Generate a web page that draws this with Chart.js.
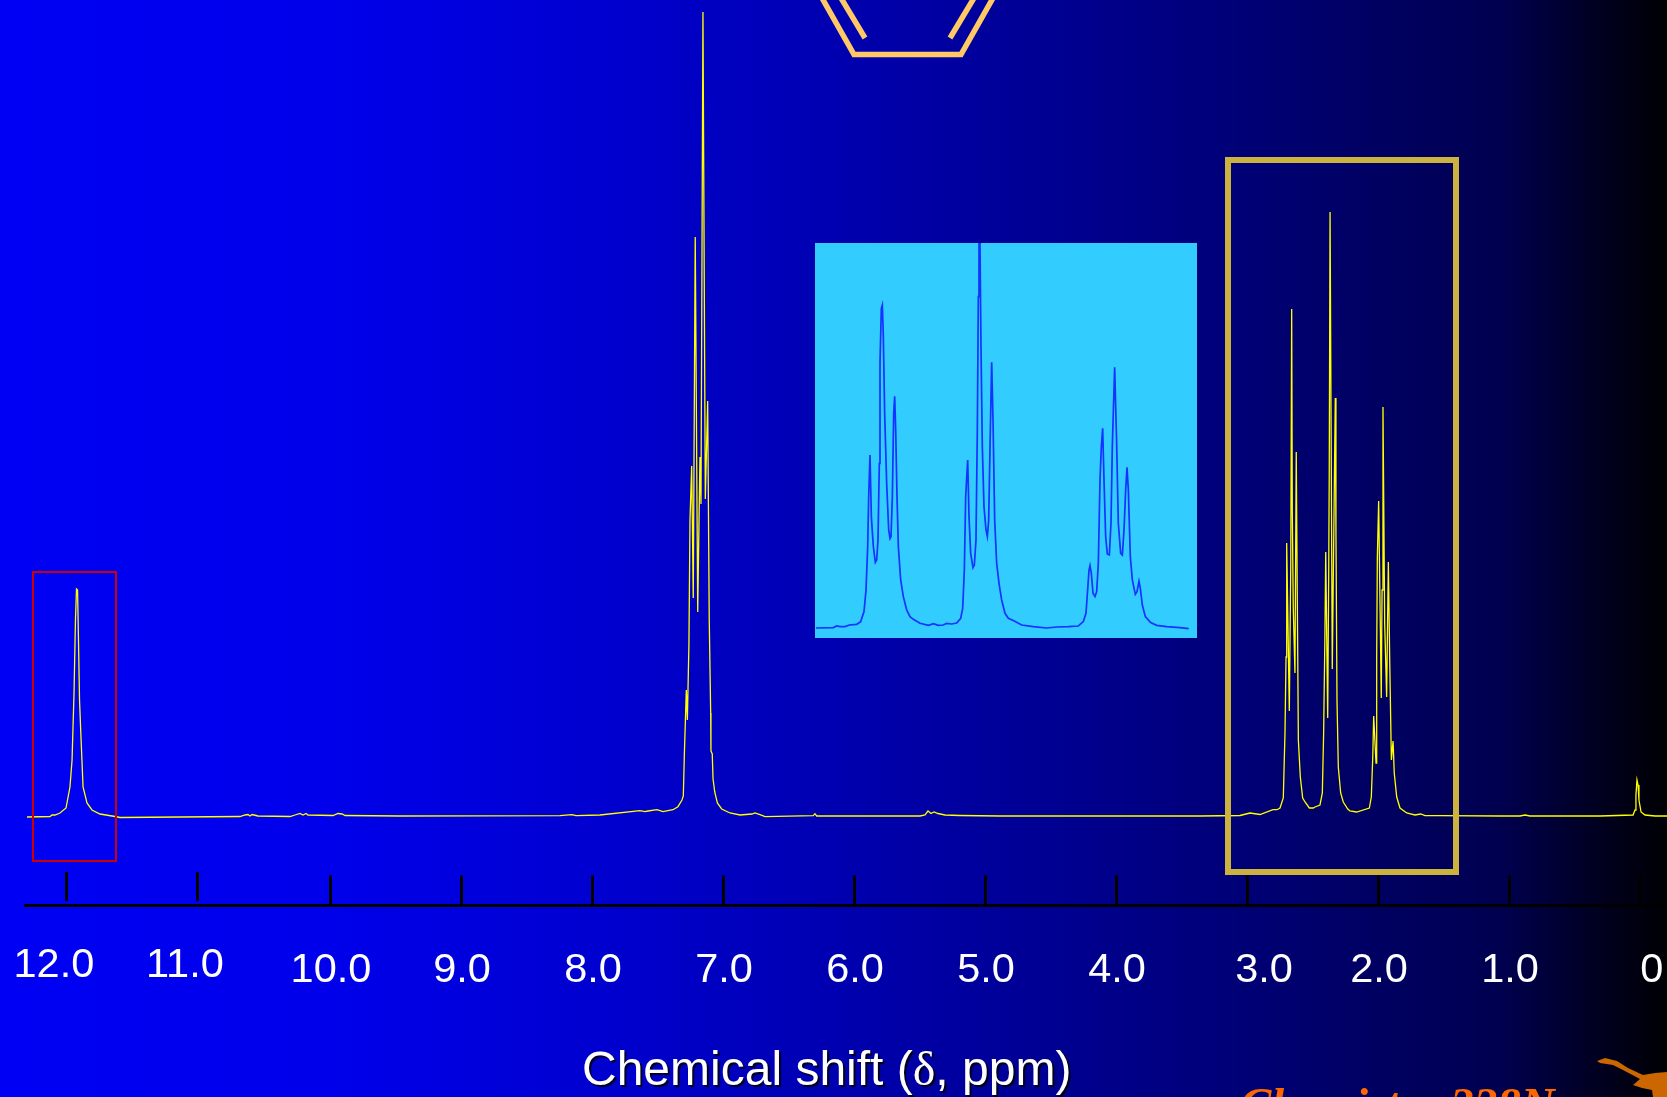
<!DOCTYPE html>
<html>
<head>
<meta charset="utf-8">
<title>1H NMR spectrum</title>
<script src="https://cdn.jsdelivr.net/npm/chart.js@4"></script>
<style>
    html, body { margin: 0; padding: 0; background: #000; overflow: hidden; }
    #wrap { position: relative; width: 1667px; height: 1097px; }
    #main { position: absolute; left: 0; top: 0; }
    #inset { position: absolute; left: 815px; top: 243px; background: #33ccff; }
</style>
</head>
<body>
<div id="wrap">
    <canvas id="main" width="1667" height="1097"></canvas>
    <canvas id="inset" width="382" height="395"></canvas>
</div>
<script>
// spectrum: chemical shift (ppm) and peak height (a.u.)
const spectrumPpm = [
    12.313, 12.137, 12.122, 12.099, 12.061, 12.015, 11.985, 11.969, 11.954, 11.943, 11.935, 11.927, 11.920, 11.912,
    11.901, 11.885, 11.855, 11.817, 11.756, 11.641, 11.603, 10.687, 10.649, 10.626, 10.611, 10.595, 10.580, 10.550,
    10.305, 10.267, 10.229, 10.206, 10.183, 10.168, 9.977, 9.939, 9.908, 9.885, 9.466, 8.244, 8.153, 8.122, 7.939,
    7.634, 7.595, 7.573, 7.504, 7.458, 7.382, 7.344, 7.313, 7.303, 7.295, 7.280, 7.272, 7.260, 7.252, 7.239, 7.227,
    7.212, 7.193, 7.176, 7.168, 7.153, 7.135, 7.117, 7.109, 7.105, 7.094, 7.092, 7.082, 7.076, 7.063, 7.043, 7.010,
    6.947, 6.870, 6.779, 6.756, 6.718, 6.679, 6.311, 6.298, 6.285, 5.649, 5.496, 5.458, 5.435, 5.412, 5.389, 5.359,
    5.305, 5.191, 4.885, 4.122, 3.359, 3.053, 2.977, 2.901, 2.802, 2.771, 2.748, 2.723, 2.710, 2.702, 2.697, 2.677,
    2.666, 2.659, 2.654, 2.647, 2.634, 2.624, 2.616, 2.608, 2.593, 2.575, 2.557, 2.524, 2.494, 2.481, 2.443, 2.425,
    2.415, 2.405, 2.399, 2.384, 2.376, 2.372, 2.366, 2.349, 2.326, 2.321, 2.313, 2.303, 2.285, 2.265, 2.231, 2.214,
    2.163, 2.066, 2.051, 2.040, 2.033, 2.015, 2.010, 2.005, 1.995, 1.975, 1.969, 1.962, 1.949, 1.934, 1.927, 1.921,
    1.911, 1.898, 1.885, 1.876, 1.857, 1.832, 1.781, 1.718, 1.674, 1.641, 1.527, 1.069, 0.916, 0.878, 0.840, 0.305,
    0.053, 0.038, 0.031, 0.023, 0.015, 0.008, -0.008, -0.038, -0.115, -0.206
];
const spectrumHeight = [
    0, 0.5, 2, 2, 4, 9, 30, 57, 124, 197, 228, 227, 177, 117,
    80, 30, 14, 7, 3, 0.5, -0.5, 0.5, 2, 2.5, 1, 2.5, 2, 1,
    0.5, 2, 3.5, 2, 3.5, 2, 1.5, 3.5, 3, 1.5, 1, 1.3, 2.3, 1.3, 2,
    6.3, 5.3, 6, 7.3, 5.3, 7.3, 10.3, 17, 21, 62.5, 127, 97, 173, 297, 351, 219,
    580, 205, 360, 313, 805, 318, 416, 269, 197, 104, 66, 63, 38, 25, 14, 8,
    4, 2, 3, 4, 2.3, 0.3, 1.3, 3.3, 1, 1, 1, 2, 6, 3.5, 5, 3.5,
    2, 1.5, 1, 1, 1, 1.5, 4, 2.5, 7.3, 7.3, 9, 19, 84, 160, 274, 106,
    251, 508, 304, 210, 144, 365, 217, 77, 40, 19, 15, 9, 9, 10, 12, 24,
    84, 184, 265, 99, 250, 350, 605, 148, 419, 284, 117, 50, 24, 15, 8, 6,
    5, 9, 20, 60, 101, 54, 160, 260, 316, 119, 227, 410, 194, 120, 194, 255,
    160, 57, 76, 44, 20, 9, 4, 2, 3, 1.3, 1.3, 1, 1, 2, 1, 1,
    2, 7, 22, 37, 32, 17, 5, 2, 1, 1
];

// blown up part of the same spectrum shown in the light blue box
const insetPpm = [
    2.8584, 2.8064, 2.7964, 2.7864, 2.7714, 2.7583, 2.7363, 2.7243, 2.7143, 2.7083, 2.7033, 2.7003, 2.6963, 2.6923,
    2.6863, 2.6803, 2.6763, 2.6723, 2.6683, 2.6663, 2.6623, 2.6593, 2.6563, 2.6523, 2.6463, 2.6402, 2.6362, 2.6332,
    2.6292, 2.6252, 2.6222, 2.6192, 2.6152, 2.6112, 2.6042, 2.5962, 2.5862, 2.5762, 2.5662, 2.5461, 2.5211, 2.5061,
    2.4911, 2.4761, 2.4661, 2.4510, 2.4360, 2.4240, 2.4180, 2.4130, 2.4090, 2.4030, 2.3990, 2.3940, 2.3870, 2.3830,
    2.3780, 2.3740, 2.3710, 2.3690, 2.3660, 2.3630, 2.3590, 2.3540, 2.3480, 2.3439, 2.3399, 2.3349, 2.3309, 2.3269,
    2.3219, 2.3159, 2.3089, 2.3009, 2.2909, 2.2809, 2.2659, 2.2408, 2.2058, 2.1658, 2.1357, 2.1007, 2.0707, 2.0557,
    2.0477, 2.0427, 2.0386, 2.0356, 2.0316, 2.0266, 2.0206, 2.0156, 2.0106, 2.0056, 2.0016, 1.9976, 1.9936, 1.9886,
    1.9836, 1.9776, 1.9726, 1.9686, 1.9616, 1.9556, 1.9506, 1.9435, 1.9385, 1.9335, 1.9285, 1.9245, 1.9205, 1.9145,
    1.9085, 1.8995, 1.8945, 1.8885, 1.8845, 1.8785, 1.8695, 1.8535, 1.8354, 1.8054, 1.7654, 1.7393
];
const insetHeight = [
    0.3, 0.7, 2.3, 1.7, 1.7, 3.3, 4, 6.7, 16.7, 38.3, 81.7, 131.7, 173.3, 111.7,
    81.7, 66, 68.3, 88.3, 165, 265, 320, 323.3, 291.7, 215, 145, 98.3, 89.7, 91.7,
    131.7, 215, 232, 198.3, 131.7, 81.7, 48.3, 31.7, 18.3, 11.7, 9, 5, 3, 4.7,
    3, 3.3, 5, 4.3, 5.3, 10, 20, 58.3, 131.7, 168.3, 111.7, 75, 60.7, 63.3,
    88.3, 198.3, 331.7, 385.3, 385.3, 281.7, 181.7, 121.7, 98.3, 91.7, 108.3, 198.3, 266, 208.3,
    108.3, 65, 45, 28.3, 15, 10, 7.7, 3.3, 1.7, 0.3, 1.3, 1.7, 2.3, 6.7,
    15, 38.3, 58.3, 62.7, 55, 35, 31.7, 36.7, 65, 148.3, 181.7, 200, 148.3, 91.7,
    74.3, 73.3, 105, 181.7, 261, 185, 105, 75, 73.3, 98.3, 138.3, 161, 138.3, 71.7,
    48.3, 34, 36.7, 47, 40, 23.3, 11.7, 5.7, 3, 1.7, 0.7, -0.3
];

// ascending ppm, the axis is reversed so these run right to left
const tickValues = [0, 1, 2, 3, 4, 5, 6, 7, 8, 9, 10];
const tickLabels = ['0.0', '1.0', '2.0', '3.0', '4.0', '5.0', '6.0', '7.0', '8.0', '9.0', '10.0'];
const earlyTickValues = [11, 12];
const earlyTickLabels = ['11.0', '12.0'];
const axisTitle = ['Chemical shift (', 'δ', ', ppm)'];
const courseLabel = 'Chemistry 328N';

function toPoints(xs, ys) {
    return xs.map((x, i) => ({ x: x, y: ys[i] }));
}

// the labels on the slide sit a bit off their ticks, so they get their own axis.
// 0.0 has to stay inside the scale range or chart.js pads the scale to nothing
const labelShift = { 3: -0.122, 0: -0.2138 };

function polyline(ctx, pts) {
    ctx.beginPath();
    pts.forEach((p, i) => i ? ctx.lineTo(p[0], p[1]) : ctx.moveTo(p[0], p[1]));
}

const slideBackground = {
    id: 'slideBackground',
    beforeDraw(chart) {
        const ctx = chart.ctx;
        const g = ctx.createLinearGradient(0, 0, chart.width, 0);
        g.addColorStop(0, '#0000f4');
        g.addColorStop(0.2, '#0000ea');
        g.addColorStop(0.38, '#0000cc');
        g.addColorStop(0.64, '#000090');
        g.addColorStop(0.72, '#00007c');
        g.addColorStop(0.9, '#000050');
        g.addColorStop(0.96, '#000020');
        g.addColorStop(1, '#000004');
        ctx.fillStyle = g;
        ctx.fillRect(0, 0, chart.width, chart.height);
    }
};

const slideDecor = {
    id: 'slideDecor',
    afterDraw(chart) {
        const ctx = chart.ctx;
        ctx.save();

        // bottom of the benzene ring coming in from the top of the slide
        ctx.strokeStyle = '#ffc966';
        ctx.lineWidth = 5.5;
        polyline(ctx, [[822, -2], [854, 54.5], [961, 54.5], [993, -2]]);
        ctx.stroke();
        polyline(ctx, [[841, -2], [865, 38]]);
        ctx.stroke();
        polyline(ctx, [[974, -2], [950, 38]]);
        ctx.stroke();

        // highlight boxes
        ctx.strokeStyle = '#cc0000';
        ctx.lineWidth = 2;
        ctx.strokeRect(33, 572, 83, 289);
        ctx.strokeStyle = '#ccb340';
        ctx.lineWidth = 6;
        ctx.strokeRect(1228, 160, 228, 712);

        // axis title, the delta is set in a serif face
        ctx.fillStyle = '#ffffff';
        ctx.textBaseline = 'alphabetic';
        ctx.textAlign = 'left';
        ctx.shadowColor = 'rgba(0,0,0,0.85)';
        ctx.shadowOffsetX = 2;
        ctx.shadowOffsetY = 2;
        ctx.shadowBlur = 1;
        let x = 582;
        axisTitle.forEach((part, i) => {
            ctx.font = (i === 1 ? '48px "Liberation Serif"' : '48px "Liberation Sans"');
            ctx.fillText(part, x, 1085);
            x += ctx.measureText(part).width;
        });
        ctx.shadowColor = 'transparent';
        ctx.shadowOffsetX = 0;
        ctx.shadowOffsetY = 0;
        ctx.shadowBlur = 0;

        // footer, cut by the slide edge
        ctx.fillStyle = '#ff6600';
        ctx.font = 'italic bold 47px "Liberation Serif"';
        ctx.fillText(courseLabel, 1240, 1120);

        // longhorn logo
        ctx.fillStyle = '#cc6600';
        polyline(ctx, [[1597, 1061], [1605, 1058], [1617, 1061], [1628, 1068], [1643, 1075], [1655, 1073], [1667, 1072],
            [1667, 1097], [1653, 1097], [1652, 1090], [1642, 1088], [1633, 1085], [1640, 1079], [1623, 1070],
            [1613, 1065], [1600, 1063]]);
        ctx.closePath();
        ctx.fill();

        ctx.restore();
    }
};

// 1 height unit is one pixel, 131 px per ppm
const xMin = -0.2061;
const xMax = 12.3282;
const axisY = -88;
const labelFont = { family: '"Liberation Sans"', size: 41.5 };

new Chart(document.getElementById('main'), {
    type: 'line',
    data: {
        datasets: [{
            data: toPoints(spectrumPpm, spectrumHeight),
            borderColor: '#ffff00',
            borderWidth: 1.3,
            pointRadius: 0,
            tension: 0,
            fill: false
        }]
    },
    options: {
        responsive: false,
        animation: false,
        layout: { padding: { left: 25, right: 0, top: 0, bottom: 0 }, autoPadding: false },
        plugins: { legend: { display: false }, tooltip: { enabled: false } },
        scales: {
            y: { display: false, min: -280, max: 817 },
            // ticks 10 to 0 and the axis line
            x: {
                type: 'linear', reverse: true, min: xMin, max: xMax,
                position: { y: axisY },
                border: { display: true, color: '#000000', width: 3 },
                grid: { drawOnChartArea: false, tickLength: -31.5, tickColor: '#000000', tickWidth: 3 },
                ticks: { display: false },
                afterBuildTicks: s => { s.ticks = tickValues.map(v => ({ value: v - 0.007 })); }
            },
            // 12 and 11 stand a little higher and further left on the slide
            xEarly: {
                axis: 'x', type: 'linear', reverse: true, min: xMin - 0.012, max: xMax - 0.012,
                position: { y: -84 },
                border: { display: false },
                grid: { drawOnChartArea: false, tickLength: -29, tickColor: '#000000', tickWidth: 3 },
                ticks: {
                    color: '#ffffff', font: labelFont, padding: 68.7,
                    labelOffset: -12.5, maxRotation: 0, autoSkip: false,
                    callback: (v) => earlyTickLabels[earlyTickValues.indexOf(v)]
                },
                afterBuildTicks: s => { s.ticks = earlyTickValues.map(v => ({ value: v })); }
            },
            // shifted 6 px left and pushed back by labelOffset, keeps the clipped 0.0 in range
            xLabels: {
                axis: 'x', type: 'linear', reverse: true, min: xMin - 0.0458, max: xMax - 0.0458,
                position: { y: axisY },
                border: { display: false },
                grid: { display: false, drawTicks: false },
                ticks: {
                    color: '#ffffff', font: labelFont, padding: 40.7,
                    labelOffset: 7, maxRotation: 0, autoSkip: false,
                    callback: (v, i) => tickLabels[i]
                },
                afterBuildTicks: s => { s.ticks = tickValues.map(v => ({ value: v + (labelShift[v] || 0) })); }
            }
        }
    },
    plugins: [slideBackground, slideDecor]
});

new Chart(document.getElementById('inset'), {
    type: 'line',
    data: {
        datasets: [{
            data: toPoints(insetPpm, insetHeight),
            borderColor: '#1433ff',
            borderWidth: 1.7,
            pointRadius: 0,
            tension: 0,
            fill: false
        }]
    },
    options: {
        responsive: false,
        animation: false,
        layout: { padding: 0, autoPadding: false },
        plugins: { legend: { display: false }, tooltip: { enabled: false } },
        scales: {
            x: { type: 'linear', display: false, reverse: true, min: 1.7143, max: 2.8615 },
            y: { display: false, min: -9.7, max: 385.3 }
        }
    }
});
</script>
</body>
</html>
